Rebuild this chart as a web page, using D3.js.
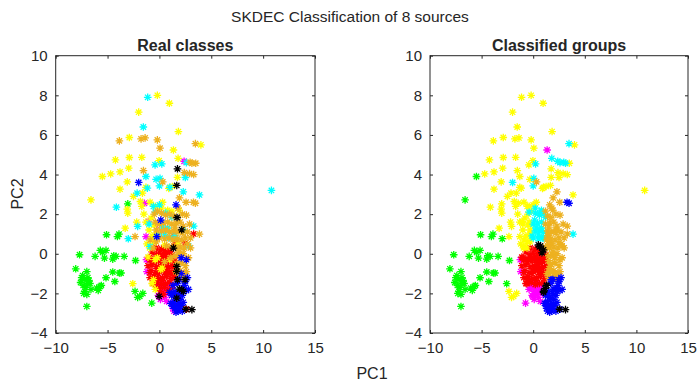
<!DOCTYPE html>
<html><head><meta charset="utf-8">
<script src="https://cdn.jsdelivr.net/npm/d3@7"></script>
<style>body{margin:0;background:#fff}svg{display:block}text{font-family:"Liberation Sans",Arial,sans-serif;fill:#262626}</style>
</head><body><svg id="c" width="700" height="383"></svg>
<script>
// ---- data: each point [PC1, PC2, classified group]; arrays grouped by real class
const xTicks = [-10, -5, 0, 5, 10, 15];
const yTicks = [-4, -2, 0, 2, 4, 6, 8, 10];
const classColors = {G:"#00ff00", Y:"#ffff00", C:"#00ffff", O:"#edb120", M:"#ff00ff", B:"#0000ff", K:"#000000", R:"#ff0000"};
const drawOrder = ["G","M","R","Y","C","O","B","K"];

const realGreen = [
 [-7.7,-0.05,"G"],[-8.07,-0.76,"G"],[-7.0,-0.9,"G"],[-7.2,-1.3,"G"],[-6.9,-1.2,"G"],[-7.5,-1.2,"G"],[-7.35,-1.6,"G"],
 [-6.9,-1.5,"G"],[-7.1,-1.7,"G"],[-7.3,-2.0,"G"],[-7.0,-2.05,"G"],[-6.7,-1.5,"G"],[-6.8,-1.35,"G"],[-7.6,-1.45,"G"],
 [-7.2,-1.9,"G"],[-7.0,-2.66,"G"],[-6.2,-0.13,"G"],[-5.7,0.17,"G"],[-5.47,0.07,"G"],[-5.15,0.17,"G"],[-5.3,-0.22,"G"],
 [-4.5,-0.27,"G"],[-4.4,-0.1,"G"],[-4.18,-0.13,"G"],[-3.4,-0.13,"G"],[-4.5,-0.92,"G"],[-4.3,-1.4,"G"],[-3.85,-0.97,"G"],
 [-3.7,-0.97,"G"],[-5.15,-1.21,"G"],[-6.05,-1.73,"G"],[-5.9,-1.85,"G"],[-5.7,-1.65,"G"],[-5.6,-1.6,"G"],[-2.3,-0.34,"G"],
 [-2.35,-1.9,"Y"],[-1.9,-2.15,"Y"],[-2.1,-2.2,"Y"],[-1.6,-2.0,"Y"],[-0.74,-2.49,"M"],[-4.05,0.87,"G"],[-3.9,0.99,"G"],
 [-5.1,0.96,"G"],[-3.05,2.52,"Y"],[-7.4,-1.1,"G"],[-6.6,-1.8,"G"]
];
const realYellow = [
 [-0.2,8.0,"Y"],[0.96,7.6,"Y"],[-2.0,7.15,"Y"],[1.83,6.17,"Y"],[-2.9,5.87,"Y"],[1.35,5.24,"M"],[4.0,5.5,"Y"],
 [-4.24,4.74,"Y"],[-2.9,4.86,"Y"],[-1.7,4.87,"Y"],[-0.03,4.7,"Y"],[1.8,4.82,"C"],[-5.5,3.9,"G"],[-4.7,4.03,"Y"],
 [-3.8,4.13,"Y"],[-2.96,4.32,"Y"],[-3.1,3.63,"Y"],[-1.64,3.06,"Y"],[-3.8,3.26,"Y"],[1.74,3.86,"Y"],[1.25,3.4,"Y"],
 [-6.6,2.72,"G"],[-1.83,2.64,"Y"],[-3.1,2.25,"Y"],[-3.05,2.05,"Y"],[-1.7,2.39,"Y"],[-3.3,1.29,"Y"],[-2.19,1.6,"Y"],
 [-2.57,-1.51,"G"],[-0.8,1.8,"Y"],[-0.5,1.45,"Y"],[-1.0,1.2,"Y"],[-0.3,1.0,"Y"],[-1.2,0.5,"Y"],[-0.7,0.9,"Y"],
 [-1.5,2.0,"Y"],[-1.3,1.6,"Y"],[0.2,2.3,"C"],[-0.4,2.4,"Y"],[0.8,2.2,"C"],[1.2,2.15,"O"],[-0.95,0.3,"Y"],[-0.6,0.6,"Y"],
 [-1.1,-0.17,"R"],[-0.2,-0.2,"R"],[0.27,-0.72,"R"],[1.0,-0.3,"R"],[-0.7,-1.5,"R"],[-0.4,-1.8,"M"],[0.5,0.45,"K"],
 [-0.42,-0.3,"R"],[-0.58,-1.31,"R"],[0.13,-0.8,"R"],[2.0,-1.0,"O"],[1.8,0.5,"O"],[-1.3,3.35,"Y"],[0.9,3.3,"Y"],
 [-2.5,2.9,"Y"],[-0.9,2.6,"Y"],[0.3,2.6,"Y"],[1.9,2.2,"O"]
];
const realCyan = [
 [-1.13,7.9,"Y"],[-1.55,6.4,"Y"],[-0.42,4.49,"Y"],[0.23,4.54,"C"],[-1.3,3.9,"Y"],[-1.16,3.31,"Y"],[-0.32,3.76,"Y"],
 [0.06,3.81,"C"],[0.0,3.43,"C"],[1.0,3.35,"Y"],[2.5,3.85,"Y"],[2.3,3.13,"O"],[3.86,2.97,"Y"],[-4.15,2.35,"Y"],
 [-2.15,3.06,"Y"],[-0.58,2.39,"Y"],[0.0,2.47,"Y"],[-3.0,0.76,"G"],[-2.1,1.38,"Y"],[-0.9,0.37,"Y"],[10.8,3.2,"Y"],
 [0.6,2.05,"C"],[1.2,1.85,"C"],[0.3,1.3,"C"],[0.8,1.3,"C"],[-0.1,0.9,"C"],[1.5,0.9,"O"],[3.3,1.4,"O"],[2.8,0.4,"O"],
 [-1.0,1.5,"Y"],[2.3,1.2,"O"],[0.5,0.95,"C"],[1.0,0.8,"C"],[-0.4,2.1,"C"],[2.6,4.6,"C"]
];
const realOrange = [
 [-3.86,5.7,"Y"],[-1.77,5.8,"Y"],[-1.38,5.85,"Y"],[-0.2,5.75,"Y"],[0.06,5.33,"Y"],[3.47,5.56,"C"],[2.96,4.62,"C"],
 [3.13,4.57,"C"],[3.5,4.57,"Y"],[2.4,4.1,"Y"],[2.9,4.05,"Y"],[3.3,4.0,"Y"],[-1.54,4.2,"Y"],[0.32,3.63,"O"],[1.93,2.82,"O"],
 [2.57,2.6,"O"],[3.28,2.6,"B"],[3.47,2.55,"B"],[-2.35,0.87,"Y"],[3.86,0.99,"C"],[2.6,1.95,"O"],
 [-0.5,2.0,"Y"],[-0.2,2.15,"Y"],[0.2,2.05,"C"],[0.6,1.95,"C"],[1.0,2.0,"C"],[1.4,1.9,"O"],[-0.4,1.6,"Y"],[0.0,1.5,"C"],
 [0.4,1.55,"C"],[0.8,1.6,"C"],[1.2,1.5,"O"],[1.6,1.55,"O"],[2.0,1.6,"O"],[2.3,1.4,"O"],[-0.3,1.2,"Y"],[0.2,1.15,"C"],
 [0.6,1.2,"C"],[1.0,1.1,"C"],[1.4,1.15,"O"],[1.8,1.1,"O"],[2.2,1.05,"O"],[2.7,1.1,"O"],[3.0,0.8,"O"],[0.0,0.8,"C"],
 [0.5,0.75,"C"],[0.9,0.8,"C"],[1.3,0.7,"O"],[1.7,0.75,"O"],[2.1,0.7,"O"],[2.5,0.8,"O"],[0.7,0.4,"K"],[1.2,0.35,"O"],
 [1.6,0.3,"O"],[2.0,0.35,"O"],[2.4,0.3,"O"],[1.5,-0.1,"O"],[1.9,-0.05,"O"],[2.3,0.0,"O"],[1.7,-0.5,"O"],[2.1,-0.45,"O"],
 [2.5,-0.6,"O"],[1.6,-0.9,"O"],[2.0,-0.85,"O"],[2.4,-1.0,"O"],[2.2,-1.25,"O"],[1.8,2.3,"O"],[2.2,2.0,"O"],
 [-0.9,0.7,"Y"],[-0.6,0.3,"Y"],[3.0,0.3,"O"],[2.8,-0.2,"O"],[1.1,-0.2,"R"],[0.5,-0.4,"R"],[2.7,0.5,"O"],[2.9,1.5,"O"],
 [1.5,1.35,"O"],[2.6,-0.9,"O"],[1.9,0.1,"O"],[-0.3,0.6,"Y"]
];
const realMagenta = [
 [2.38,4.67,"C"],[-1.45,2.55,"Y"],[-1.06,1.63,"Y"],[-1.29,0.87,"Y"],[-0.3,-1.4,"M"],[0.0,-1.6,"M"],[0.3,-1.5,"M"],
 [0.6,-1.8,"M"],[0.2,-2.0,"M"],[0.5,-2.2,"M"],[0.9,-2.0,"M"],[-0.1,-2.1,"M"],[0.7,-2.4,"M"],[1.2,-2.5,"B"],
 [1.3,-2.75,"B"],[1.4,-2.9,"B"],[0.4,-1.9,"M"],[-1.2,-0.9,"M"],[-1.25,-0.3,"M"],[0.8,-1.6,"M"],[0.1,-2.3,"M"],
 [-0.2,1.5,"Y"],[1.0,-1.9,"K"]
];
const realRed = [
 [-0.3,0.3,"R"],[0.2,0.25,"R"],[0.6,0.35,"K"],[1.0,0.2,"K"],[1.4,0.4,"O"],[-0.7,0.1,"R"],[0.0,0.05,"R"],[0.45,0.0,"R"],
 [0.85,0.05,"K"],[1.25,-0.05,"R"],[-0.9,-0.3,"R"],[-0.5,-0.25,"R"],[-0.1,-0.35,"R"],[0.3,-0.3,"R"],[0.7,-0.2,"R"],
 [1.1,-0.3,"R"],[1.5,-0.35,"O"],[-1.1,-0.6,"R"],[-0.7,-0.55,"R"],[-0.3,-0.65,"R"],[0.1,-0.6,"R"],[0.5,-0.55,"R"],
 [0.9,-0.65,"R"],[1.3,-0.6,"R"],[-0.8,-0.85,"R"],[-0.4,-0.95,"R"],[0.0,-0.9,"R"],[0.4,-0.85,"R"],[0.8,-0.95,"R"],
 [1.2,-0.9,"R"],[-0.9,-1.2,"R"],[-0.5,-1.15,"R"],[-0.1,-1.25,"R"],[0.3,-1.2,"R"],[0.7,-1.15,"R"],[1.1,-1.25,"R"],
 [1.5,-1.2,"O"],[-0.6,-1.5,"R"],[-0.2,-1.45,"R"],[0.2,-1.55,"R"],[0.6,-1.5,"R"],[1.0,-1.45,"R"],[1.3,-1.6,"K"],
 [0.0,-1.75,"M"],[0.5,-1.7,"M"],[1.15,-1.75,"K"],[-0.3,-0.05,"R"],[0.35,-0.45,"R"],[0.6,-1.05,"R"],[-0.2,-1.0,"R"],
 [0.15,-0.15,"R"],[0.85,-0.4,"R"],[0.25,-1.35,"R"],[-0.6,-0.4,"R"],[1.0,-1.0,"R"],[0.5,0.15,"R"],[1.4,0.9,"O"],
 [2.5,0.55,"O"],[3.3,1.0,"O"],[2.6,-2.8,"B"],[1.6,0.6,"O"],[-0.9,-0.95,"R"],[0.1,-1.9,"M"],[0.4,-2.05,"M"],
 [-0.2,-1.7,"M"],[0.8,-1.85,"M"],[1.55,-0.75,"O"],[-1.0,-0.2,"R"],[0.65,-0.75,"R"],[1.25,-0.3,"R"],[1.35,-1.0,"O"]
];
const realBlue = [
 [1.3,-1.6,"K"],[1.5,-1.9,"B"],[1.2,-2.1,"B"],[1.6,-2.2,"B"],[1.9,-2.0,"B"],[2.2,-2.1,"B"],[1.4,-2.4,"B"],[1.8,-2.5,"B"],
 [2.1,-2.6,"B"],[1.5,-2.75,"B"],[1.8,-2.9,"B"],[1.6,-2.95,"B"],[2.3,-2.45,"B"],[2.6,-1.85,"B"],[2.8,-1.8,"B"],
 [2.7,-1.2,"B"],[2.5,-1.4,"B"],[2.6,-0.3,"O"],[1.9,-1.3,"B"],[2.1,-1.0,"O"],[1.3,-2.65,"B"],[2.0,-2.3,"B"],
 [1.1,-2.5,"B"],[2.4,-1.6,"B"],[1.7,-1.5,"B"],[1.0,-1.95,"K"],[1.9,-2.75,"B"],[2.2,-2.9,"B"],[-2.0,3.6,"C"],
 [0.13,1.7,"C"],[1.6,2.47,"O"],[-0.26,0.87,"Y"],[2.1,-0.2,"O"],[2.3,-1.75,"B"],[1.4,-2.1,"B"],[1.7,-2.6,"B"]
];
const realBlack = [
 [1.74,4.29,"Y"],[1.67,3.45,"Y"],[1.7,1.83,"O"],[2.15,1.21,"O"],[1.35,0.29,"O"],[1.67,-0.64,"O"],[1.67,-0.89,"O"],
 [1.74,-1.31,"B"],[2.15,-1.81,"B"],[2.31,-1.9,"B"],[1.93,-1.78,"B"],[2.48,-1.31,"B"],[-0.03,-2.15,"M"],[3.13,-2.82,"K"],
 [1.67,-2.24,"B"],[2.55,-2.8,"K"]
];
const realClasses = {G:realGreen, Y:realYellow, C:realCyan, O:realOrange, M:realMagenta, R:realRed, B:realBlue, K:realBlack};

// ---- layout
const svg = d3.select("#c");
const panels = [
  {title:"Real classes", x0:55.7, x1:315, useReal:true},
  {title:"Classified groups", x0:430, x1:688, useReal:false}
];
const yTop = 55.7, yBot = 333;
const star = "M-3.8,0H3.8M0,-3.8V3.8M-2.7,-2.7L2.7,2.7M-2.7,2.7L2.7,-2.7";

const allPts = [];
for (const k of drawOrder) for (const p of realClasses[k]) allPts.push({x:p[0], y:p[1], real:k, group:p[2]});

panels.forEach(pn => {
  const x = d3.scaleLinear().domain([-10, 15]).range([pn.x0, pn.x1]);
  const y = d3.scaleLinear().domain([-4, 10]).range([yBot, yTop]);
  const g = svg.append("g");
  const key = pn.useReal ? "real" : "group";
  const pts = allPts.slice().sort((a,b)=>drawOrder.indexOf(a[key]) - drawOrder.indexOf(b[key]));
  g.append("g").selectAll("path").data(pts).join("path")
    .attr("d", star).attr("transform", d => `translate(${x(d.x)},${y(d.y)})`)
    .attr("fill","none").attr("stroke", d => classColors[d[key]]).attr("stroke-width", 1.3);

  const axStyle = s => { s.select(".domain").remove(); s.selectAll("line").attr("stroke","#262626"); s.selectAll("text").attr("font-size","15px").attr("fill","#262626").attr("font-family","Liberation Sans, Arial, sans-serif"); };
  g.append("g").attr("transform",`translate(0,${yBot})`).call(d3.axisBottom(x).tickValues(xTicks).tickSize(-3).tickPadding(9)).call(axStyle);
  g.append("g").attr("transform",`translate(0,${yTop})`).call(d3.axisTop(x).tickValues(xTicks).tickSize(-3).tickFormat("")).call(axStyle);
  g.append("g").attr("transform",`translate(${pn.x0},0)`).call(d3.axisLeft(y).tickValues(yTicks).tickSize(-3).tickPadding(8)).call(axStyle);
  g.append("g").attr("transform",`translate(${pn.x1},0)`).call(d3.axisRight(y).tickValues(yTicks).tickSize(-3).tickFormat("")).call(axStyle);
  g.append("rect").attr("x",pn.x0).attr("y",yTop).attr("width",pn.x1-pn.x0).attr("height",yBot-yTop)
    .attr("fill","none").attr("stroke","#262626").attr("stroke-width",1);
  g.append("text").attr("x",(pn.x0+pn.x1)/2).attr("y",yTop-5).attr("text-anchor","middle")
    .attr("font-weight","bold").attr("font-size","16px").attr("fill","#000").text(pn.title);
});

svg.append("text").attr("x",350).attr("y",22).attr("text-anchor","middle").attr("font-size","15.5px").attr("fill","#404040").text("SKDEC Classification of 8 sources");
svg.append("text").attr("x",372).attr("y",379).attr("text-anchor","middle").attr("font-size","16px").text("PC1");
svg.append("text").attr("transform","translate(23,194) rotate(-90)").attr("text-anchor","middle").attr("font-size","16px").text("PC2");
</script></body></html>
